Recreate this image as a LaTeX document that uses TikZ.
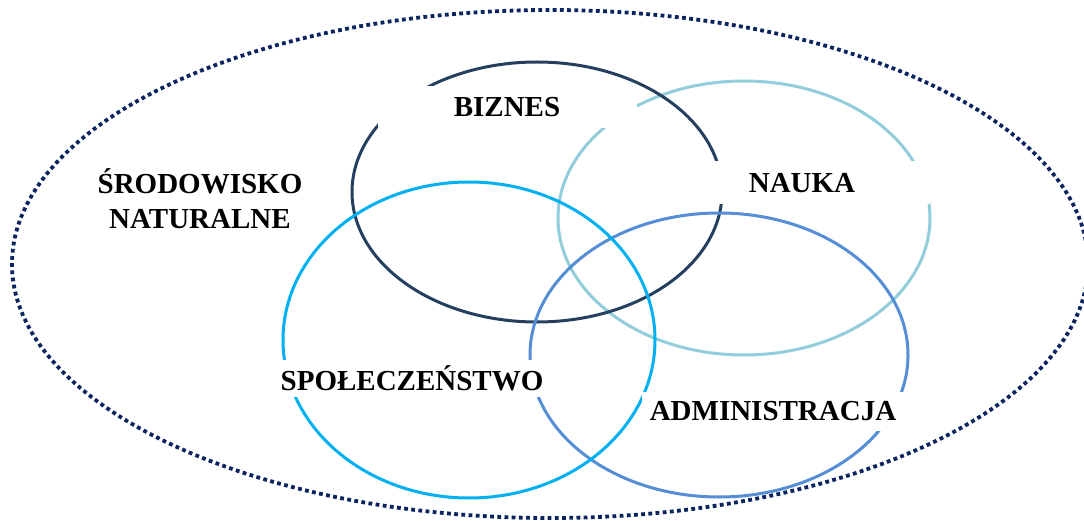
\documentclass[tikz,border=0pt]{standalone}
\usepackage{fontspec}
\setmainfont{Liberation Serif}
\definecolor{outerc}{HTML}{0B2460}
\definecolor{biz}{HTML}{243F60}
\definecolor{nau}{HTML}{92CDDC}
\definecolor{spo}{HTML}{00B0F0}
\definecolor{adm}{HTML}{558ED5}
\tikzset{
  ring/.style={line width=3pt},
  lbl/.style={fill=white, inner sep=0pt, font=\fontsize{29}{31}\selectfont\bfseries, text=black},
}
\begin{document}
\begin{tikzpicture}[x=1pt,y=-1pt]
\useasboundingbox (0,0) rectangle (1084,521);
\clip (0,0) rectangle (1084,521);
\draw[outerc, line width=3.8pt, dash pattern=on 3.8pt off 3.4pt] (550,264) ellipse [x radius=538, y radius=254];
\draw[ring, nau] (744,218) ellipse [x radius=186, y radius=137];
\draw[ring, biz] (537,192) ellipse [x radius=185, y radius=130];
\draw[ring, adm] (719,355) ellipse [x radius=189, y radius=142];
\draw[ring, spo] (469,340) ellipse [x radius=186, y radius=158];
\node[lbl, minimum width=259pt, minimum height=42pt] (biznes) at (507,107) {BIZNES};
\node[lbl, minimum width=256pt, minimum height=43pt] (nauka) at (802,183) {NAUKA};
\node[lbl, minimum width=265pt, minimum height=37pt] (spol) at (412,378) {SPOŁECZEŃSTWO};
\node[lbl, minimum width=262pt, minimum height=39pt] (admin) at (773,411) {ADMINISTRACJA};
\node[font=\fontsize{29}{35}\selectfont\bfseries, align=center, inner sep=0pt] (srod) at (200,199) {ŚRODOWISKO\\NATURALNE};
\end{tikzpicture}
\end{document}
